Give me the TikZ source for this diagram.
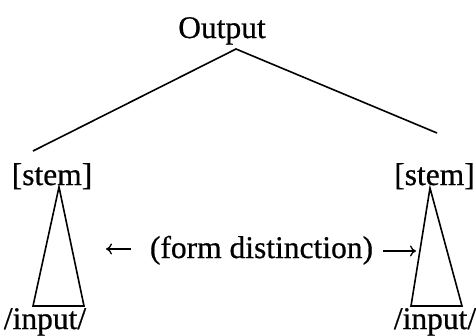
\documentclass[tikz,border=0pt]{standalone}
\usepackage{fontspec}
\usetikzlibrary{arrows.meta}
\setmainfont{Liberation Serif}[FakeBold=0.6]
\begin{document}
\begin{tikzpicture}[x=1pt,y=-1pt,
  lbl/.style={font=\fontsize{31.5}{36}\selectfont, inner sep=0pt, anchor=base},
  edge/.style={line width=1.6pt, line join=miter},
  tri/.style={line width=1.6pt, line join=miter},
  dirarrow/.style={line width=1.3pt, -{Computer Modern Rightarrow[length=6pt,width=11pt,line width=1.3pt]}}]
\useasboundingbox (0,0) rectangle (476,335);
% labels
\node[lbl] (out) at (222,38) {Output};
\node[lbl] (stemL) at (52,185) {[stem]};
\node[lbl] (stemR) at (434.5,185) {[stem]};
\node[lbl] (fd) at (261.5,258) {(form distinction)};
\node[lbl] (inL) at (45,329) {/input/};
\node[lbl] (inR) at (435,329) {/input/};
% arrows beside the label
\coordinate (aLs) at (131,249);
\coordinate (aLe) at (106,249);
\coordinate (aRs) at (383,251);
\coordinate (aRe) at (416,251);
\draw[dirarrow] (aLs) -- (aLe);
\draw[dirarrow] (aRs) -- (aRe);
% tree lines
\coordinate (apex) at (236,49);
\coordinate (lEnd) at (33,151);
\coordinate (rEnd) at (437,133);
\draw[edge] (lEnd) -- (apex) -- (rEnd);
% triangles
\coordinate (tLa) at (59,187);
\coordinate (tLb) at (33,306);
\coordinate (tLc) at (84,306);
\coordinate (tRa) at (430,188);
\coordinate (tRb) at (411,306);
\coordinate (tRc) at (462,306);
\draw[tri] (tLa) -- (tLb) -- (tLc) -- cycle;
\draw[tri] (tRa) -- (tRb) -- (tRc) -- cycle;
\end{tikzpicture}
\end{document}
